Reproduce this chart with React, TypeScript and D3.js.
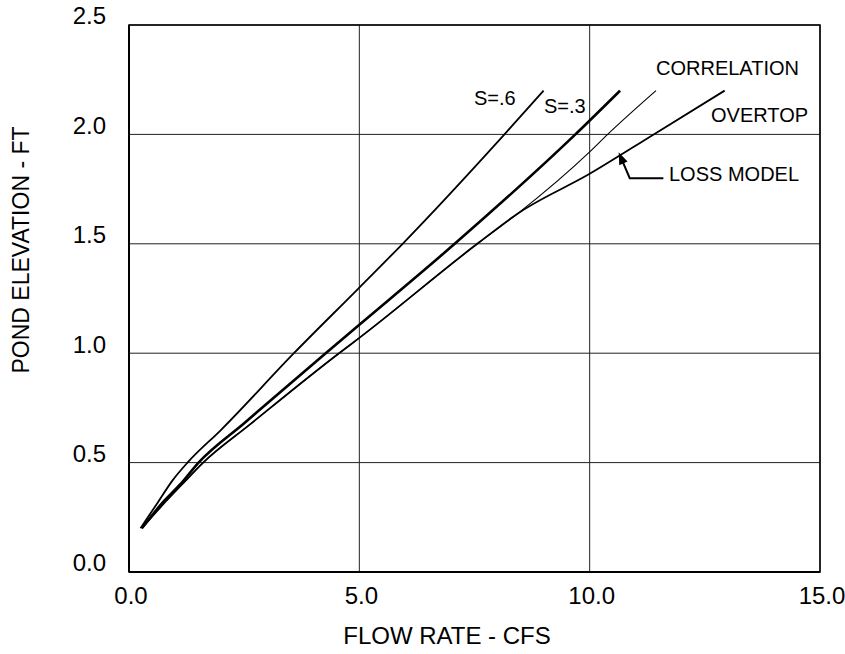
import React from "react";
import * as d3 from "d3";

// flow rate (cfs) vs pond elevation (ft)
const s6Flow = [0.25, 0.6, 0.95, 1.27, 2.0, 3.58, 5.0, 5.94, 8.15, 9.0];
const s6Elev = [0.2, 0.31, 0.42, 0.5, 0.65, 1.0, 1.3, 1.5, 2.0, 2.2];

const s3Flow = [0.28, 0.7, 1.11, 1.51, 2.5, 4.27, 5.0, 7.07, 9.69, 10.66];
const s3Elev = [0.2, 0.31, 0.4, 0.5, 0.68, 1.0, 1.13, 1.5, 2.0, 2.2];

const lowFlow = [0.28, 0.7, 1.15, 1.61, 2.6, 4.56, 5.0, 7.56, 8.45];
const lowElev = [0.2, 0.3, 0.4, 0.5, 0.67, 1.0, 1.07, 1.5, 1.64];

const corrFlow = [8.45, 10.0, 10.39, 11.44];
const corrElev = [1.64, 1.92, 2.0, 2.2];

const overFlow = [8.45, 10.0, 11.39, 12.93];
const overElev = [1.64, 1.82, 2.0, 2.2];

const xTicks = [0, 5, 10, 15];
const yTicks = [0, 0.5, 1.0, 1.5, 2.0, 2.5];

const W = 845;
const H = 654;
const font = "'Liberation Sans', Arial, Helvetica, sans-serif";

const zip = (xs: number[], ys: number[]): [number, number][] =>
  xs.map((v, i) => [v, ys[i]]);

export default function App() {
  const x = d3.scaleLinear().domain([0, 15]).range([129, 820]);
  const y = d3.scaleLinear().domain([0, 2.5]).range([572, 25]);

  const line = d3
    .line<[number, number]>()
    .x((d) => x(d[0]))
    .y((d) => y(d[1]))
    .curve(d3.curveMonotoneX);

  const lowPts = zip(lowFlow, lowElev);
  const corrPts = lowPts.concat(zip(corrFlow, corrElev).slice(1));
  const lossPts = lowPts.concat(zip(overFlow, overElev).slice(1));

  // LOSS MODEL leader arrow
  const tipX = x(10.63), tipY = y(1.918);
  const elbX = x(10.87), elbY = y(1.8);
  const endX = x(11.6);
  const ang = Math.atan2(tipY - elbY, tipX - elbX);
  const hl = 12, hw = 4.5;
  const head = [
    [tipX, tipY],
    [tipX - hl * Math.cos(ang) + hw * Math.sin(ang), tipY - hl * Math.sin(ang) - hw * Math.cos(ang)],
    [tipX - hl * Math.cos(ang) - hw * Math.sin(ang), tipY - hl * Math.sin(ang) + hw * Math.cos(ang)],
  ];

  return (
    <svg
      width={W}
      height={H}
      style={{ position: "absolute", left: 0, top: 0, background: "#fff" }}
      fontFamily={font}
    >
      {/* grid */}
      {yTicks.map((t) => (
        <line key={"gy" + t} x1={x(0)} x2={x(15)} y1={y(t)} y2={y(t)} stroke="#222" strokeWidth={1} />
      ))}
      {xTicks.map((t) => (
        <line key={"gx" + t} x1={x(t)} x2={x(t)} y1={y(0)} y2={y(2.5)} stroke="#222" strokeWidth={1} />
      ))}
      <rect x={x(0)} y={y(2.5)} width={x(15) - x(0)} height={y(0) - y(2.5)} fill="none" stroke="#000" strokeWidth={1.5} />
      <line x1={x(0)} x2={x(0)} y1={y(0)} y2={y(2.5)} stroke="#000" strokeWidth={2} />
      <line x1={x(0)} x2={x(15)} y1={y(0)} y2={y(0)} stroke="#000" strokeWidth={2} />

      {/* tick labels */}
      {yTicks.map((t) => (
        <text key={"ly" + t} x={106} y={y(t) - 7} textAnchor="end" dominantBaseline="middle" fontSize={24}>
          {t.toFixed(1)}
        </text>
      ))}
      {xTicks.map((t) => (
        <text key={"lx" + t} x={x(t) + 2} y={y(0) + 26} textAnchor="middle" dominantBaseline="middle" fontSize={24}>
          {t.toFixed(1)}
        </text>
      ))}

      {/* axis titles */}
      <text x={447} y={638} textAnchor="middle" dominantBaseline="middle" fontSize={24}>
        FLOW RATE - CFS
      </text>
      <text
        transform={`translate(23,250) rotate(-90)`}
        textAnchor="middle"
        dominantBaseline="middle"
        fontSize={23}
      >
        POND ELEVATION - FT
      </text>

      {/* curves */}
      <path d={line(zip(s6Flow, s6Elev)) ?? ""} fill="none" stroke="#000" strokeWidth={1.8} />
      <path d={line(zip(s3Flow, s3Elev)) ?? ""} fill="none" stroke="#000" strokeWidth={2.6} />
      <path d={line(corrPts) ?? ""} fill="none" stroke="#000" strokeWidth={1.1} />
      <path d={line(lossPts) ?? ""} fill="none" stroke="#000" strokeWidth={1.8} />

      {/* annotations */}
      <text x={474} y={100} dominantBaseline="middle" fontSize={20}>S=.6</text>
      <text x={544} y={108} dominantBaseline="middle" fontSize={20}>S=.3</text>
      <text x={656} y={70} dominantBaseline="middle" fontSize={20}>CORRELATION</text>
      <text x={711} y={117} dominantBaseline="middle" fontSize={20}>OVERTOP</text>
      <text x={669} y={176} dominantBaseline="middle" fontSize={20}>LOSS MODEL</text>
      <polyline
        points={`${endX},${elbY} ${elbX},${elbY} ${tipX - 6 * Math.cos(ang)},${tipY - 6 * Math.sin(ang)}`}
        fill="none"
        stroke="#000"
        strokeWidth={2}
      />
      <polygon points={head.map((p) => p.join(",")).join(" ")} fill="#000" />
    </svg>
  );
}
